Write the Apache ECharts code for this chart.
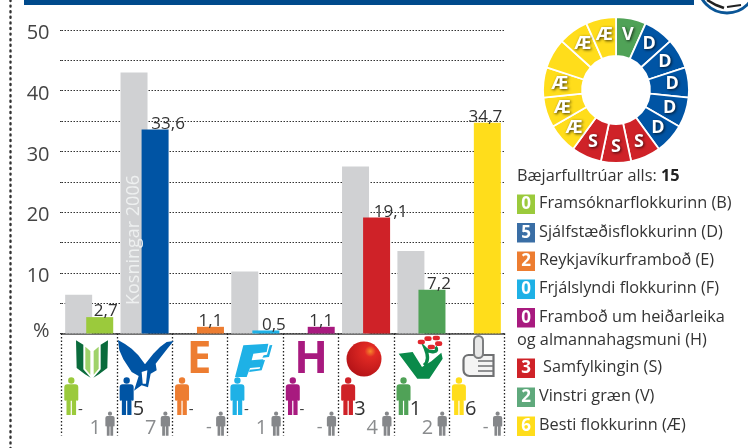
<!DOCTYPE html>
<html><head><meta charset="utf-8">
<style>html,body{margin:0;padding:0;background:#fff}#c{width:748px;height:448px}</style>
<script src="https://cdn.jsdelivr.net/npm/echarts@6/dist/echarts.min.js"></script>
</head><body><div id="c"></div>
<script>
const categories = ['B','D','E','F','H','S','V','Æ'];
const results2010 = [2.7,33.6,1.1,0.5,1.1,19.1,7.2,34.7];
const results2006 = [6.4,43.0,null,10.2,null,27.5,13.6,null];
const partyColors = ['#9bca3c','#0054a4','#ed7d31','#1eb1e6','#a81a7f','#cf2228','#50a257','#ffdd1b'];
const seatsNew = ['-','5','-','-','-','3','1','6'];
const seatsOld = ['1','7','-','1','-','4','2','-'];
const yTicks = [0,10,20,30,40,50];
const councilSeats = ['V','D','D','D','D','D','S','S','S','Æ','Æ','Æ','Æ','Æ','Æ'];
const legendTitle = 'Bæjarfulltrúar alls: ';
const legendTotal = '15';
const legendCounts = ['0','5','2','0','0','3','2','6'];
const legendNames = ['Framsóknarflokkurinn (B)','Sjálfstæðisflokkurinn (D)','Reykjavíkurframboð (E)','Frjálslyndi flokkurinn (F)','Framboð um heiðarleika','Samfylkingin (S)','Vinstri græn (V)','Besti flokkurinn (Æ)'];
const legendExtraLine = 'og almannahagsmuni (H)';
const note = 'Kosningar 2006';

const font = '"Open Sans","Noto Sans",sans-serif';
const labelShift = [6,13,0,8,0,14,7,-2];
const seatColor = {V:'#50a257',D:'#0054a4',S:'#cf2228','Æ':'#ffdd1b'};
const legendSwatchColors = ['#9bca3c','#3a6ea5','#ed7d31','#1eb1e6','#a81a7f','#cf2228','#5fa97c','#ffdd1b'];
const legendY = [204,232.5,261,289,317.5,368,397,426];
const legendSize = 16.3;

const PERSON='M-7 9Q-7 6 -4 6H4Q7 6 7 9V21Q7 22 5.7 22Q4.8 22 4.8 21V36H.6V22H-.6V36H-4.8V21Q-4.8 22 -5.7 22Q-7 22 -7 21Z M3.2 2.5A3.2 3.2 0 1 1 -3.2 2.5A3.2 3.2 0 1 1 3.2 2.5Z';
echarts.graphic.registerShape('person',echarts.graphic.extendPath(PERSON,{}));
echarts.graphic.registerShape('vstem',echarts.graphic.extendPath('M96 100C115 85 105 62 100 50C115 65 145 60 130 45',{}));

const chart = echarts.init(document.getElementById('c'),null,{renderer:'canvas'});
const dotted = {color:'#333',width:1,type:[1.5,1.5]};

chart.setOption({
  animation:false,
  textStyle:{fontFamily:font},
  grid:{left:61.5,right:243.5,top:30,bottom:114.5,containLabel:false},
  xAxis:{type:'category',data:categories,
    axisLine:{lineStyle:{color:'#444',width:1.5}},
    axisTick:{show:true,inside:false,length:102,alignWithLabel:false,lineStyle:{color:'#222',width:1.3,type:[1.5,2]}},
    axisLabel:{show:false},splitLine:{show:false}},
  yAxis:{type:'value',min:0,max:50,interval:5,
    axisLine:{show:false},
    axisTick:{show:true,length:3,lineStyle:dotted},
    splitLine:{show:true,lineStyle:dotted},
    axisLabel:{margin:12,color:'#444',fontSize:20,fontFamily:font,
      formatter:v=>yTicks.includes(v)?(v===0?'{p|%}':'{n|'+v+'}'):'',
      rich:{n:{fontSize:20,color:'#444',padding:[7,0,0,0]},p:{fontSize:20,color:'#444',padding:[0,0,5,0]}}}},
  series:[
    {type:'bar',z:2,barWidth:27,barGap:'-22%',data:results2006,itemStyle:{color:'#d0d1d3'},silent:true},
    {type:'bar',z:3,barWidth:27,
     data:results2010.map((v,i)=>({value:v,itemStyle:{color:partyColors[i]},
       label:{show:true,position:'top',distance:-3,offset:[labelShift[i],0],fontSize:17,color:'#333',fontFamily:font,
         formatter:p=>String(p.value).replace('.',',')}}))},
    {type:'pie',center:[616,90],radius:[34,73],startAngle:90,clockwise:true,silent:true,
     label:{show:true,position:'inside',color:'#fff',fontWeight:'bold',fontSize:18,fontFamily:font,
       formatter:p=>p.name,textShadowColor:'rgba(0,0,0,.75)',textShadowBlur:3,textShadowOffsetX:1,textShadowOffsetY:1},
     labelLine:{show:false},
     itemStyle:{borderColor:'#fff',borderWidth:1.8},
     data:councilSeats.map(s=>({name:s,value:1,itemStyle:{color:seatColor[s]}}))}
  ]
});

const g=[];
// frame
g.push({type:'rect',shape:{x:24,y:0,width:670,height:5},style:{fill:'#004a8c'}});
g.push({type:'line',shape:{x1:10.5,y1:0,x2:10.5,y2:448},style:{stroke:'#333',lineWidth:2.4,lineDash:[1,4.6],lineCap:'round'}});
g.push({type:'circle',shape:{cx:727,cy:-16,r:29},style:{fill:'#fff',stroke:'#0a5596',lineWidth:3}});
g.push({type:'polyline',shape:{points:[[707,0],[716,5],[724,8]]},style:{stroke:'#222',lineWidth:2.5,fill:null}});
g.push({type:'polyline',shape:{points:[[727,7],[741,5]]},style:{stroke:'#222',lineWidth:2,fill:null}});

// note on the 2006 bar
const nx=chart.convertToPixel({xAxisIndex:0},1);
g.push({type:'text',x:nx-11,y:175,rotation:Math.PI/2,z:5,
  style:{text:note,fontSize:18,fontFamily:font,fill:'#eef0f0',textAlign:'right',textVerticalAlign:'middle'}});

// persons and seat numbers beneath each category
categories.forEach((c,i)=>{
  const cx=chart.convertToPixel({xAxisIndex:0},i);
  const left=cx-27.7;
  g.push({type:'person',x:left+9.8,y:378,scaleX:1,scaleY:1.03,style:{fill:partyColors[i]},z:4});
  const big=seatsNew[i]!=='-';
  g.push({type:'text',x:left+(big?16:16.5),y:big?409:410,z:4,style:{text:seatsNew[i],fontSize:big?20:15,fontFamily:font,fill:'#333',textVerticalAlign:'middle'}});
  g.push({type:'person',x:left+48.5,y:412,scaleX:.66,scaleY:.66,style:{fill:'#85878a'},z:4});
  g.push({type:'text',x:left+39.5,y:428,z:4,style:{text:seatsOld[i],fontSize:seatsOld[i]==='-'?18:20,fontFamily:font,fill:'#8a8c8e',textAlign:'right',textVerticalAlign:'middle'}});
});

// party marks
const poly=(pts,fill,ox,oy,extra)=>({type:'polygon',shape:{points:pts.map(p=>[ox+p[0]/3,oy+p[1]/3])},style:Object.assign({fill},extra||{}),z:4});
const dk='#0a6b3c', lt='#9fd26a';
const shL=[[48,25],[70,38],[70,112],[92,137],[75,127],[50,108]];
g.push(poly(shL,dk,60,332));
g.push(poly(shL.map(p=>[192-p[0],p[1]]),dk,60,332));
g.push(poly([[76,44],[91,57],[91,128],[76,110]],lt,60,332));
g.push(poly([[116,44],[101,57],[101,128],[116,110]],lt,60,332));
g.push(poly([[174,24],[195,36],[215,50],[235,70],[255,97],[280,65],[300,45],[320,30],[341,27],[322,50],[305,72],[287,95],[290,115],[272,125],[264,166],[245,160],[222,176],[236,132],[215,120],[190,82],[178,55]],'#0054a4',60,332));
g.push(poly([[245,120],[262,115],[258,155],[248,155]],'#fff',60,332));
g.push({type:'text',x:199,y:360,z:4,style:{text:'E',fontSize:44,fontWeight:'bold',fontFamily:font,fill:'#ed7d31',textAlign:'center',textVerticalAlign:'middle'}});
g.push({type:'text',x:311,y:360,z:4,style:{text:'H',fontSize:44,fontWeight:'bold',fontFamily:font,fill:'#a81a7f',textAlign:'center',textVerticalAlign:'middle'}});
g.push(poly([[55,40],[130,35],[125,60],[85,65],[80,85],[115,82],[108,105],[75,108],[65,135],[30,135]],'#1eb1e6',225,332));
g.push(poly([[134,40],[142,39],[132,75],[112,77],[116,70],[126,68]],'#1eb1e6',225,332));
g.push(poly([[112,85],[120,84],[110,115],[72,120],[74,113],[104,110]],'#1eb1e6',225,332));
g.push({type:'circle',z:4,shape:{cx:364,cy:359,r:17.5},style:{fill:{type:'radial',x:.68,y:.28,r:.8,colorStops:[{offset:0,color:'#f58a2a'},{offset:.2,color:'#e22a24'},{offset:1,color:'#b31217'}]}}});
g.push(poly([[20,65],[62,60],[90,105],[118,88],[148,62],[152,80],[112,140],[76,140]],'#0a8a4a',392,332));
g.push({type:'vstem',z:4,x:392,y:332,scaleX:1/3,scaleY:1/3,style:{fill:null,stroke:'#0a8a4a',lineWidth:10}});
[[88,30],[108,20],[133,18],[118,45],[140,35]].forEach(p=>g.push({type:'rect',z:5,shape:{x:392+p[0]/3-3.7,y:332+p[1]/3-2.3,width:7.4,height:4.6,r:2.3},style:{fill:'#e1262d'}}));
g.push({type:'rect',z:4,shape:{x:463.5,y:355,width:30,height:21,r:[5,0,0,6]},style:{fill:'#f4f4f4',stroke:'#6f7072',lineWidth:2.2}});
g.push({type:'rect',z:5,shape:{x:474,y:336,width:9,height:22,r:4.5},style:{fill:'#e8e8e8',stroke:'#7d7e80',lineWidth:2}});
[361,366,371].forEach(y=>g.push({type:'line',z:5,shape:{x1:478,y1:y,x2:493,y2:y},style:{stroke:'#77787a',lineWidth:1.6}}));

// legend
g.push({type:'text',x:517,y:176,z:4,style:{
  text:'{a|'+legendTitle+'}{b|'+legendTotal+'}',textVerticalAlign:'middle',
  rich:{a:{fontSize:legendSize,fontFamily:font,fill:'#333'},b:{fontSize:legendSize,fontWeight:'bold',fontFamily:font,fill:'#222'}}}});
categories.forEach((c,i)=>{
  const y=legendY[i];
  g.push({type:'rect',z:4,shape:{x:517,y:y-9.5,width:18,height:19.5},style:{fill:legendSwatchColors[i]}});
  g.push({type:'text',x:526,y:y+.5,z:5,style:{text:legendCounts[i],fontSize:17,fontWeight:'bold',fontFamily:font,fill:'#fff',textAlign:'center',textVerticalAlign:'middle'}});
  g.push({type:'text',x:c==='S'?543:539,y:y-.5,z:5,style:{text:legendNames[i],fontSize:legendSize,fontFamily:font,fill:'#333',textVerticalAlign:'middle'}});
});
g.push({type:'text',x:517,y:340,z:5,style:{text:legendExtraLine,fontSize:legendSize,fontFamily:font,fill:'#333',textVerticalAlign:'middle'}});
chart.setOption({graphic:{elements:g}});
</script></body></html>
